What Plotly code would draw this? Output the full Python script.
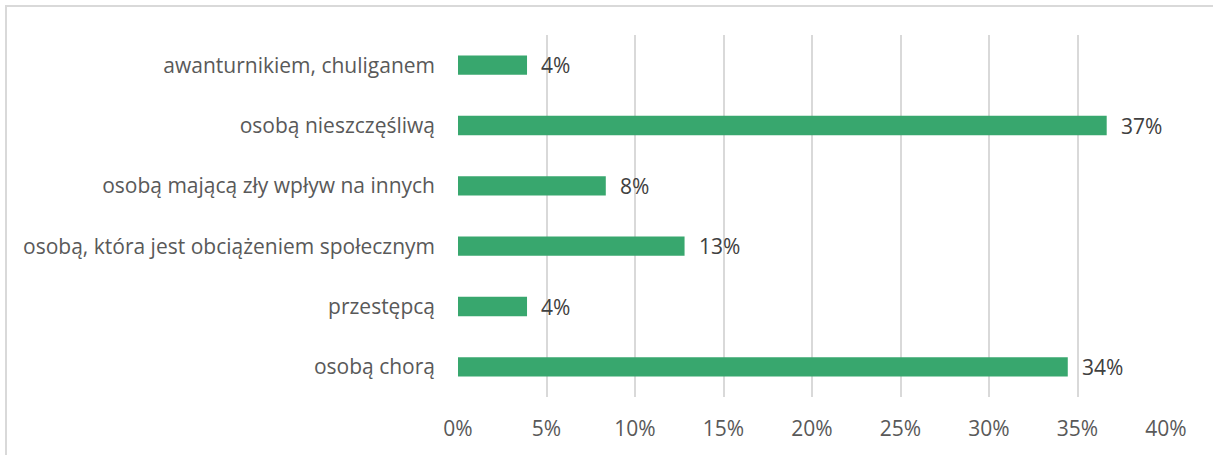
import plotly.graph_objects as go

categories = ["osobą chorą", "przestępcą", "osobą, która jest obciążeniem społecznym",
              "osobą mającą zły wpływ na innych", "osobą nieszczęśliwą", "awanturnikiem, chuliganem"]
values = [34.45, 3.9, 12.8, 8.35, 36.65, 3.9]
labels = ["34%", "4%", "13%", "8%", "37%", "4%"]
tick_vals = [0, 5, 10, 15, 20, 25, 30, 35, 40]
tick_text = ["0%", "5%", "10%", "15%", "20%", "25%", "30%", "35%", "40%"]

W, H = 1213, 455
L, R, T, B = 458, 47, 35, 58
pw, ph = W - L - R, H - T - B
FONT = "Open Sans, sans-serif"

fig = go.Figure(go.Bar(
    x=values, y=categories, orientation="h",
    marker=dict(color="#38A76E", line=dict(width=0)),
    width=0.32, hoverinfo="skip",
))

for v, c, t in zip(values, categories, labels):
    fig.add_annotation(x=v, y=c, text=t, showarrow=False, xanchor="left",
                       xshift=12, font=dict(family=FONT, size=21, color="#404040"))

fig.add_shape(type="rect", xref="paper", yref="paper",
              x0=(6 - L) / pw, x1=1 + (R + 6) / pw,
              y0=-(B + 6) / ph, y1=1 + (T - 6) / ph,
              line=dict(color="#D9D9D9", width=2), fillcolor="rgba(0,0,0,0)", layer="below")

fig.update_layout(
    width=W, height=H,
    margin=dict(l=L, r=R, t=T, b=B),
    paper_bgcolor="white", plot_bgcolor="white",
    showlegend=False,
    font=dict(family=FONT, size=21, color="#595959"),
    xaxis=dict(range=[0, 40], tickvals=tick_vals, ticktext=tick_text,
               showgrid=True, gridcolor="#D9D9D9", gridwidth=2, zeroline=False,
               showline=False, ticks="", ticklabelstandoff=17, fixedrange=True),
    yaxis=dict(showgrid=False, zeroline=False, showline=False, ticks="",
               ticklabelstandoff=22, fixedrange=True),
)

fig.write_html("out.html", config={"displayModeBar": False},
               post_script="document.body.style.margin='0';document.body.style.overflow='hidden';")
